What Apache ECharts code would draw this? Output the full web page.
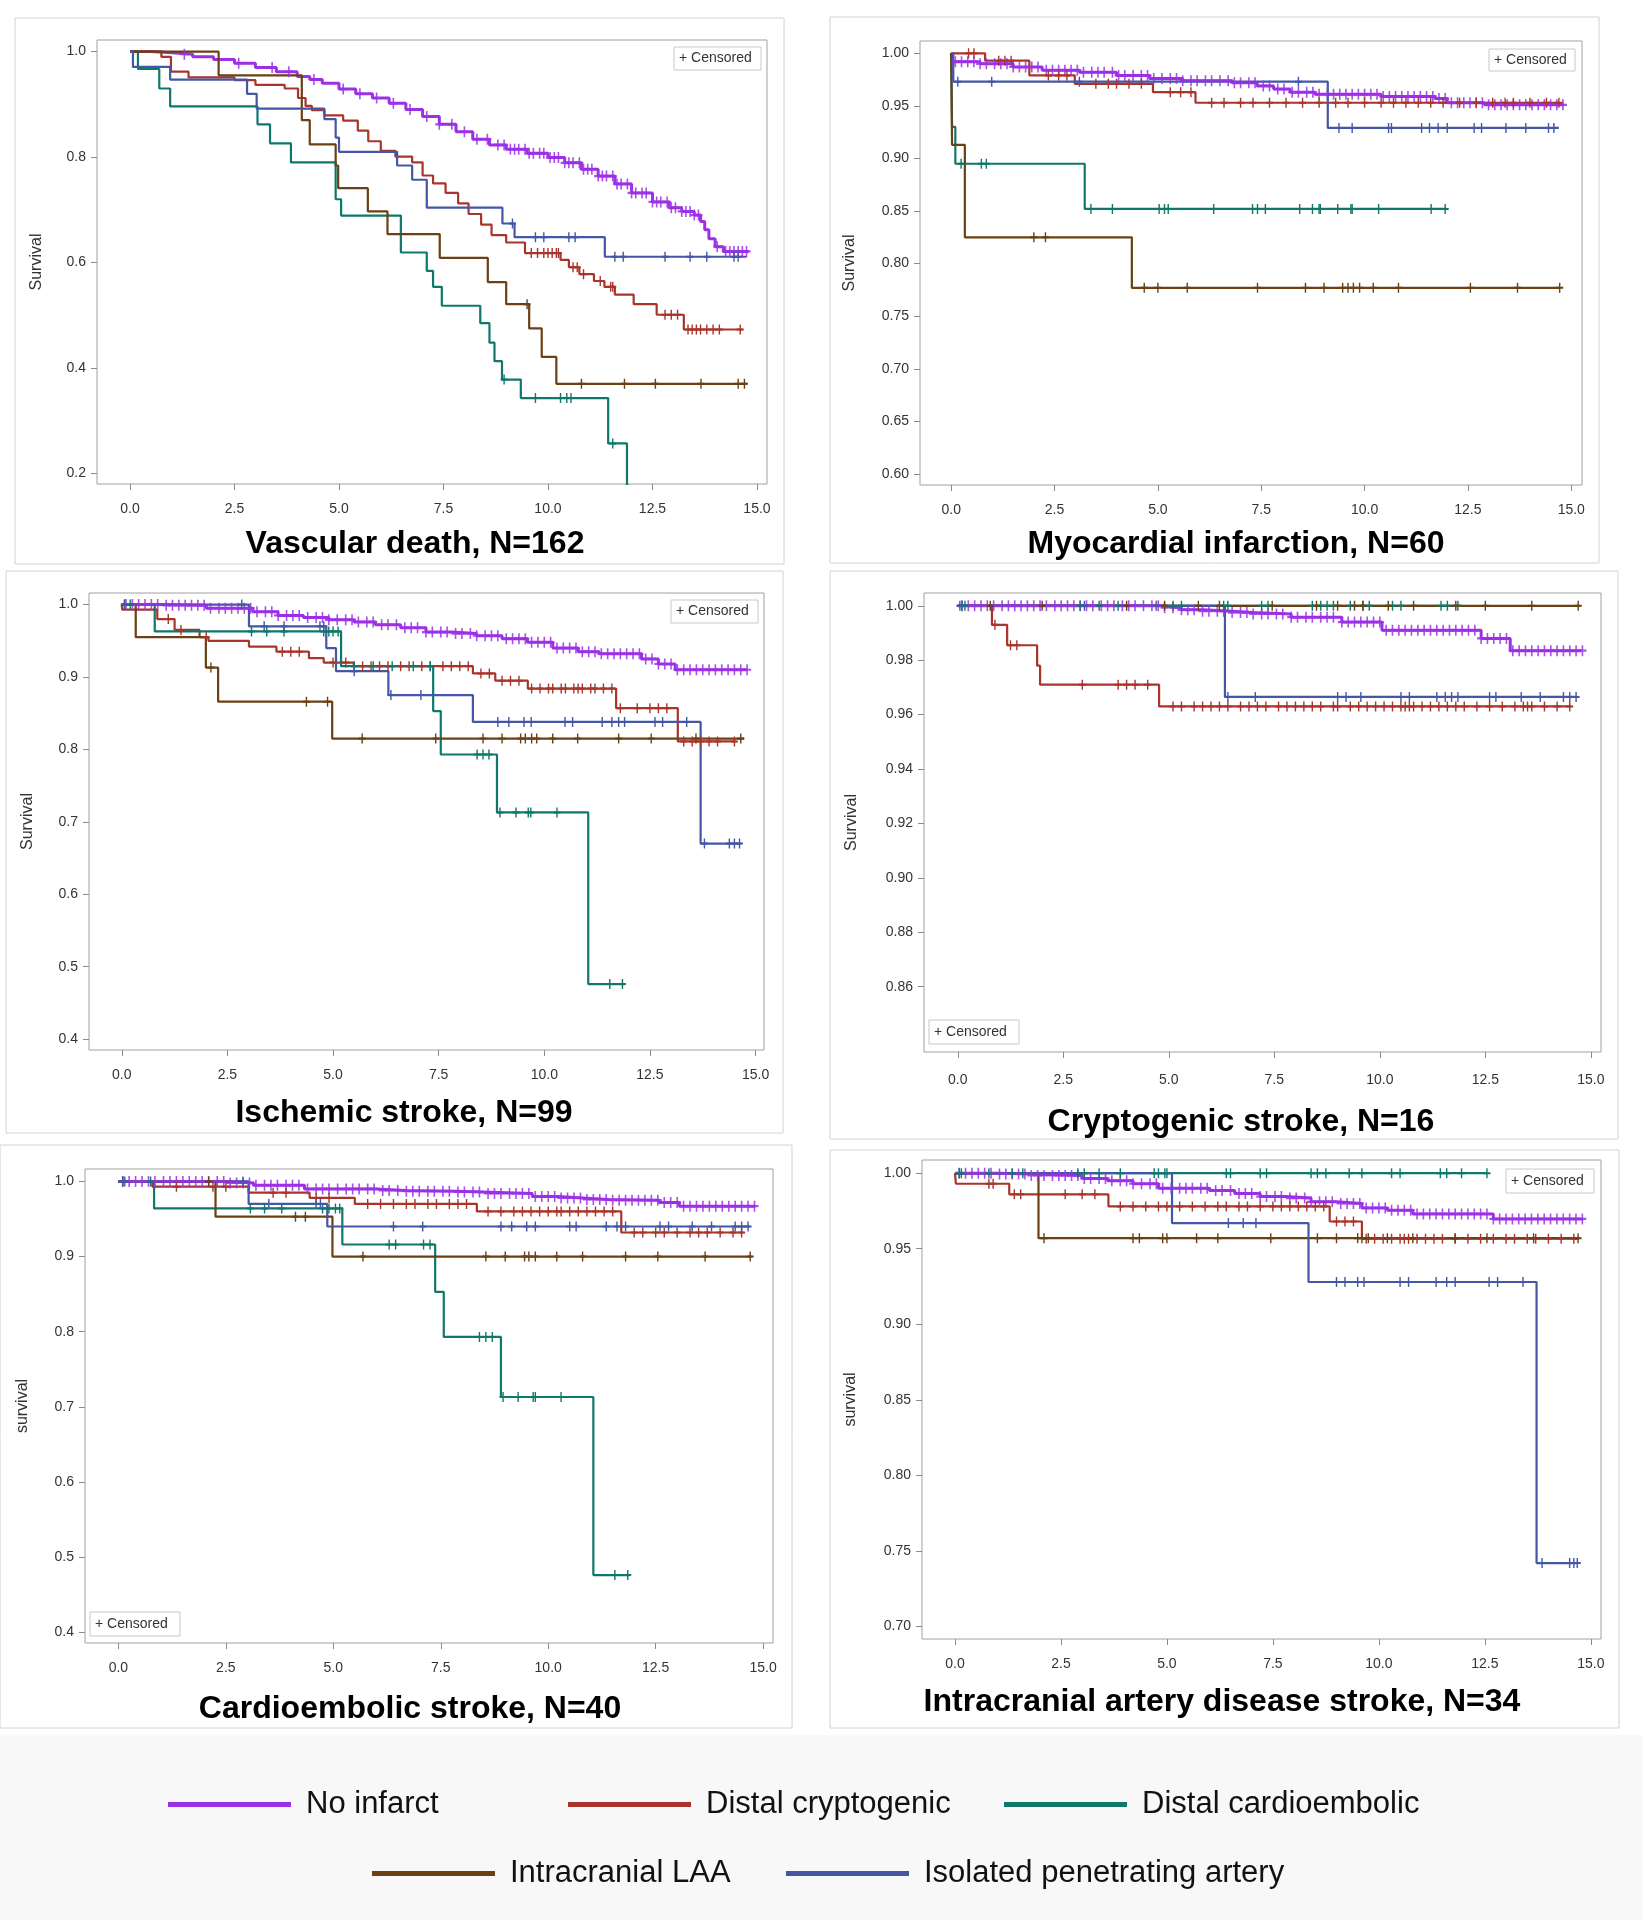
<!DOCTYPE html>
<html><head><meta charset="utf-8">
<script src="https://cdn.jsdelivr.net/npm/echarts@6/dist/echarts.min.js"></script>
<style>html,body{margin:0;padding:0;background:#fff}#c{width:1643px;height:1920px}</style>
</head><body><div id="c"></div>
<script>
// ---------- categories / labels ----------
const groupNames = ['No infarct','Distal cryptogenic','Distal cardioembolic','Intracranial LAA','Isolated penetrating artery'];
const groupColors = ['#9b30e6','#a9342b','#0f786b','#6a4014','#4456a6'];
const panelTitles = ['Vascular death, N=162','Myocardial infarction, N=60','Ischemic stroke, N=99','Cryptogenic stroke, N=16','Cardioembolic stroke, N=40','Intracranial artery disease stroke, N=34'];
const yAxisNames = ['Survival','Survival','Survival','Survival','survival','survival'];
const xTicks = [0,2.5,5,7.5,10,12.5,15];
const yTicksVD = [0.2,0.4,0.6,0.8,1.0];
const yTicksMI = [0.60,0.65,0.70,0.75,0.80,0.85,0.90,0.95,1.00];
const yTicksIS = [0.4,0.5,0.6,0.7,0.8,0.9,1.0];
const yTicksCS = [0.86,0.88,0.90,0.92,0.94,0.96,0.98,1.00];
const yTicksCE = [0.4,0.5,0.6,0.7,0.8,0.9,1.0];
const yTicksICAD = [0.70,0.75,0.80,0.85,0.90,0.95,1.00];

// ---------- Vascular death: steps [time, survival] and censor times ----------
const vdNoInfarct = [[0,1],[0.5,0.998],[1.0,0.995],[1.5,0.99],[2.0,0.985],[2.5,0.978],[3.0,0.97],[3.5,0.962],[4.0,0.953],[4.3,0.947],[4.6,0.94],[5.0,0.929],[5.4,0.92],[5.8,0.912],[6.2,0.902],[6.6,0.89],[7.0,0.877],[7.4,0.862],[7.8,0.848],[8.2,0.834],[8.6,0.823],[9.0,0.815],[9.5,0.807],[10.0,0.799],[10.4,0.789],[10.8,0.777],[11.2,0.764],[11.6,0.749],[12.0,0.732],[12.5,0.715],[12.9,0.704],[13.2,0.697],[13.5,0.69],[13.65,0.678],[13.75,0.662],[13.85,0.645],[14.0,0.63],[14.2,0.621],[14.8,0.621]];
const vdNoInfarctCens = [1.3,2.6,3.4,3.8,4.4,5.1,5.5,5.9,6.3,6.7,7.1,7.4,7.7,8.0,8.3,8.55,8.8,8.95,9.1,9.2,9.3,9.45,9.55,9.65,9.8,9.9,10.05,10.15,10.25,10.4,10.5,10.6,10.75,10.85,10.95,11.05,11.2,11.3,11.4,11.55,11.65,11.75,11.9,12.0,12.1,12.25,12.35,12.5,12.6,12.7,12.85,12.95,13.05,13.2,13.3,13.4,13.5,13.6,14.05,14.25,14.35,14.45,14.55,14.65,14.75];
const vdCrypto = [[0,1],[0.75,0.99],[0.98,0.962],[1.4,0.951],[2.5,0.946],[3.0,0.937],[3.7,0.93],[4.02,0.912],[4.2,0.897],[4.35,0.889],[4.65,0.879],[5.1,0.869],[5.45,0.85],[5.7,0.83],[6.0,0.812],[6.35,0.801],[6.75,0.79],[7.0,0.765],[7.25,0.75],[7.55,0.732],[7.85,0.712],[8.1,0.692],[8.4,0.672],[8.65,0.652],[9.0,0.638],[9.45,0.618],[10.3,0.605],[10.5,0.591],[10.75,0.578],[11.1,0.565],[11.35,0.554],[11.6,0.539],[12.05,0.521],[12.6,0.501],[13.25,0.473],[14.65,0.473]];
const vdCryptoCens = [9.6,9.75,9.9,10.0,10.1,10.2,10.25,10.6,10.7,10.85,11.25,11.5,11.55,12.8,12.95,13.1,13.35,13.45,13.55,13.65,13.8,13.95,14.1,14.6];
const vdCardio = [[0,1],[0.19,0.967],[0.7,0.93],[0.96,0.896],[3.05,0.862],[3.35,0.826],[3.85,0.79],[4.92,0.72],[5.05,0.689],[6.48,0.619],[7.1,0.584],[7.25,0.554],[7.46,0.518],[8.38,0.485],[8.6,0.448],[8.72,0.413],[8.9,0.378],[9.35,0.343],[11.44,0.257],[11.89,0.15]];
const vdCardioCens = [8.95,9.7,10.3,10.45,10.55,11.55];
const vdLAA = [[0,1],[2.12,0.955],[4.11,0.87],[4.3,0.824],[4.92,0.784],[4.98,0.741],[5.69,0.697],[6.16,0.654],[7.41,0.609],[8.56,0.563],[9.0,0.521],[9.55,0.475],[9.85,0.421],[10.2,0.37],[14.75,0.37]];
const vdLAACens = [9.5,10.8,11.83,12.57,13.66,14.55,14.7];
const vdPen = [[0,1],[0.07,0.971],[0.96,0.947],[2.8,0.92],[3.03,0.892],[4.65,0.872],[4.92,0.837],[5.0,0.81],[6.39,0.784],[6.75,0.757],[7.1,0.704],[8.91,0.674],[9.2,0.648],[11.36,0.611],[14.75,0.611]];
const vdPenCens = [9.15,9.7,9.9,10.5,10.65,11.6,11.8,12.8,13.4,13.8,14.45,14.55];

// ---------- shared censor times of the No infarct group (panels 2-6) ----------
const noInfarctCens = [0.1,0.25,0.4,0.55,0.7,0.85,1.05,1.2,1.35,1.5,1.65,1.8,1.95,2.1,2.3,2.45,2.6,2.75,2.9,3.05,3.2,3.4,3.55,3.7,3.9,4.05,4.2,4.4,4.6,4.75,4.9,5.1,5.3,5.45,5.6,5.8,5.95,6.15,6.3,6.5,6.7,6.85,7.0,7.2,7.35,7.55,7.7,7.9,8.05,8.25,8.4,8.6,8.75,8.9,9.1,9.25,9.4,9.55,9.7,9.85,10.0,10.15,10.3,10.45,10.6,10.75,10.9,11.05,11.2,11.35,11.5,11.65,11.8,11.95,12.1,12.25,12.4,12.55,12.7,12.85,13.0,13.15,13.3,13.45,13.6,13.75,13.9,14.05,14.2,14.35,14.5,14.65,14.8];

// ---------- Myocardial infarction ----------
const miNoInfarct = [[0,1],[0.02,0.992],[0.7,0.99],[1.5,0.987],[2.2,0.984],[3.1,0.982],[4.0,0.979],[4.8,0.976],[5.6,0.974],[6.8,0.972],[7.4,0.969],[7.8,0.966],[8.2,0.963],[8.8,0.961],[10.4,0.959],[11.7,0.957],[12.0,0.953],[12.9,0.951],[14.82,0.951]];
const miCrypto = [[0,1],[0.82,0.993],[1.89,0.979],[2.99,0.971],[4.88,0.963],[5.91,0.953],[14.7,0.953]];
const miCryptoCens = [0.42,0.55,1.15,1.3,1.45,2.35,2.6,2.8,3.5,3.8,4.0,4.3,4.6,5.3,5.55,5.8,6.3,6.6,7.0,7.3,7.7,8.1,8.5,8.9,9.3,9.6,10.0,10.4,10.7,11.0,11.3,11.6,11.9,12.3,12.7,13.1,13.4,13.6,14.0,14.4,14.7];
const miCardio = [[0,1],[0.02,0.93],[0.1,0.895],[3.23,0.852],[11.99,0.852]];
const miCardioCens = [0.24,0.73,0.85,3.38,3.9,5.03,5.16,5.25,6.35,7.29,7.41,7.6,8.43,8.74,8.9,8.93,9.35,9.67,9.7,10.34,11.61,11.95];
const miLAA = [[0,1],[0.02,0.913],[0.33,0.825],[4.37,0.777],[14.73,0.777]];
const miLAACens = [2.0,2.28,4.67,5.0,5.71,7.41,8.57,9.02,9.47,9.6,9.73,9.88,10.21,10.82,12.56,13.7,14.72];
const miPen = [[0,1],[0.05,0.973],[9.11,0.929],[14.7,0.929]];
const miPenCens = [0.16,0.98,3.1,8.4,9.38,9.7,10.58,10.65,11.38,11.57,11.78,12.0,12.65,12.83,13.42,13.9,14.45,14.58];

// ---------- Ischemic stroke ----------
const isNoInfarct = [[0,1],[1.0,0.999],[2.0,0.995],[3.1,0.99],[3.7,0.985],[4.3,0.982],[4.9,0.979],[5.5,0.976],[6.0,0.972],[6.6,0.968],[7.2,0.962],[7.8,0.96],[8.4,0.957],[9.0,0.953],[9.6,0.948],[10.2,0.94],[10.8,0.935],[11.3,0.932],[12.3,0.925],[12.7,0.918],[13.1,0.91],[14.8,0.91]];
const isCrypto = [[0,1],[0.01,0.993],[0.84,0.98],[1.25,0.965],[1.84,0.955],[2.05,0.95],[3.01,0.942],[3.66,0.935],[4.43,0.926],[4.78,0.92],[5.49,0.915],[8.31,0.905],[8.84,0.895],[9.61,0.884],[11.7,0.857],[13.16,0.811],[14.53,0.811]];
const isCryptoCens = [1.1,1.4,2.0,3.8,4.0,4.2,5.0,5.3,5.7,5.9,6.1,6.3,6.6,6.8,7.1,7.3,7.6,7.8,8.0,8.2,8.5,8.7,9.0,9.2,9.4,9.7,9.9,10.1,10.2,10.4,10.5,10.7,10.8,10.9,11.1,11.2,11.4,11.6,11.8,12.2,12.5,12.7,12.9,13.3,13.5,13.7,13.9,14.1,14.5];
const isCardio = [[0,1],[0.78,0.963],[5.19,0.915],[7.37,0.853],[7.55,0.793],[8.88,0.713],[11.04,0.476],[11.9,0.476]];
const isCardioCens = [0.06,0.2,3.07,3.43,3.84,4.78,4.9,5.0,5.12,5.5,5.95,6.4,6.9,7.3,8.41,8.55,8.69,8.95,9.33,9.62,9.68,10.3,11.55,11.85];
const isLAA = [[0,1],[0.33,0.955],[1.99,0.913],[2.28,0.866],[4.98,0.815],[14.73,0.815]];
const isLAACens = [2.11,4.37,4.87,5.69,7.43,8.55,9.0,9.44,9.55,9.7,9.82,10.2,10.79,11.76,12.53,13.59,14.65];
const isPen = [[0,1],[3.01,0.97],[4.84,0.94],[5.07,0.908],[6.31,0.875],[8.31,0.838],[13.7,0.67],[14.65,0.67]];
const isPenCens = [0.07,2.84,3.37,3.84,4.69,4.78,5.5,6.37,7.08,8.9,9.16,9.52,9.69,10.49,10.67,11.37,11.6,11.76,11.9,12.62,12.8,13.37,13.79,14.38,14.5,14.62];

// ---------- Cryptogenic stroke ----------
const csNoInfarct = [[0,1],[4.8,0.9993],[5.3,0.9985],[5.8,0.998],[6.5,0.9975],[7.0,0.997],[7.9,0.9958],[9.1,0.994],[10.05,0.991],[12.4,0.988],[13.09,0.9835],[14.78,0.9835]];
const csCrypto = [[0,1],[0.81,0.993],[1.17,0.9855],[1.88,0.978],[1.95,0.971],[4.77,0.963],[14.53,0.963]];
const csCryptoCens = [0.88,1.25,1.4,2.95,3.8,4.0,4.2,4.5,5.1,5.3,5.6,5.8,6.0,6.2,6.4,6.7,6.9,7.1,7.3,7.6,7.8,8.0,8.2,8.4,8.6,8.9,9.0,9.3,9.5,9.7,9.9,10.1,10.3,10.5,10.6,10.7,10.8,11.0,11.2,11.4,11.6,11.8,12.0,12.3,12.6,12.9,13.2,13.4,13.5,13.6,13.9,14.2,14.5];
const csCardio = [[0,1],[11.95,1]];
const csCardioCens = [0.1,0.17,2.9,3.35,3.8,5.1,5.3,6.3,6.4,7.2,7.35,8.4,8.6,8.75,8.9,9.3,9.6,9.75,10.3,10.5,11.45,11.6,11.85];
const csLAA = [[0,1],[14.73,1]];
const csLAACens = [0.77,2.0,4.0,4.9,5.7,6.2,7.45,8.5,9.0,9.4,9.6,10.2,10.8,11.8,12.5,13.6,14.7];
const csPen = [[0,1],[6.33,0.9665],[14.68,0.9665]];
const csPenCens = [0.05,3.0,4.7,6.4,7.05,9.0,9.2,9.55,10.5,10.7,11.35,11.55,11.7,11.85,12.6,12.75,13.35,13.8,14.35,14.5,14.65];

// ---------- Cardioembolic stroke ----------
const ceNoInfarct = [[0,1],[2.5,0.998],[3.15,0.995],[4.33,0.99],[6.0,0.988],[6.69,0.987],[7.87,0.986],[8.46,0.984],[9.63,0.98],[10.22,0.978],[10.8,0.976],[11.4,0.975],[12.58,0.972],[13.05,0.967],[14.82,0.967]];
const ceCrypto = [[0,1],[0.79,0.993],[3.03,0.985],[4.45,0.978],[5.5,0.97],[8.34,0.96],[11.7,0.932],[14.53,0.932]];
const ceCryptoCens = [1.35,2.2,2.5,3.6,3.9,4.6,4.9,5.8,6.1,6.4,6.7,6.9,7.2,7.4,7.7,7.9,8.1,8.6,8.9,9.2,9.4,9.6,9.8,10.0,10.2,10.3,10.5,10.7,10.9,11.1,11.3,11.5,12.0,12.2,12.5,12.7,13.0,13.3,13.5,13.7,14.0,14.3,14.5];
const ceCardio = [[0,1],[0.83,0.964],[5.21,0.916],[7.37,0.853],[7.57,0.793],[8.9,0.713],[11.05,0.476],[11.9,0.476]];
const ceCardioCens = [0.1,0.75,3.07,3.4,3.8,4.75,4.9,5.05,5.15,6.3,6.45,7.1,7.25,8.4,8.55,8.7,8.95,9.3,9.65,9.7,10.3,11.55,11.85];
const ceLAA = [[0,1],[2.26,0.953],[4.98,0.9],[14.73,0.9]];
const ceLAACens = [2.1,4.12,4.35,5.69,8.55,9.0,9.45,9.55,9.7,10.2,10.8,11.8,12.55,13.65,14.7];
const cePen = [[0,1],[3.03,0.97],[4.86,0.94],[14.68,0.94]];
const cePenCens = [0.1,0.15,2.9,3.5,4.6,4.7,6.4,7.08,8.9,9.15,9.5,9.7,10.5,10.65,11.35,11.6,11.8,12.6,12.8,13.35,13.8,14.35,14.5,14.65];

// ---------- Intracranial artery disease stroke ----------
const icNoInfarct = [[0,1],[1.0,0.9995],[1.8,0.9985],[3.0,0.9965],[3.6,0.995],[4.2,0.993],[4.8,0.99],[6.0,0.9885],[6.6,0.9865],[7.2,0.9845],[7.8,0.9835],[8.4,0.981],[9.0,0.98],[9.6,0.977],[10.2,0.9755],[10.8,0.973],[12.7,0.9697],[14.82,0.9697]];
const icCrypto = [[0,1],[0.02,0.993],[1.28,0.986],[3.62,0.978],[8.84,0.968],[9.6,0.9566],[14.7,0.9566]];
const icCryptoCens = [0.8,0.9,1.4,1.55,2.6,3.0,3.3,3.9,4.2,4.5,4.8,5.0,5.3,5.6,5.9,6.2,6.4,6.7,6.9,7.2,7.5,7.7,7.9,8.1,8.3,8.5,8.7,9.0,9.2,9.4,9.7,9.9,10.1,10.3,10.5,10.6,10.7,10.9,11.1,11.3,11.5,11.8,12.1,12.4,12.7,13.0,13.2,13.5,13.7,14.0,14.3,14.6];
const icCardio = [[0,1],[12.55,1]];
const icCardioCens = [0.1,0.15,0.8,1.35,1.6,2.9,3.05,3.4,3.9,4.7,4.8,4.95,5.0,6.4,6.5,7.2,7.35,8.4,8.55,8.75,9.3,9.6,10.3,10.5,11.45,11.6,11.95,12.55];
const icLAA = [[0,1],[1.97,0.957],[14.73,0.957]];
const icLAACens = [2.1,4.2,4.35,4.9,5.0,5.7,6.2,7.45,8.55,9.0,9.5,9.6,9.75,10.2,10.8,11.8,12.55,13.65,14.7];
const icPen = [[0,1],[5.12,0.967],[8.34,0.928],[13.72,0.742],[14.68,0.742]];
const icPenCens = [6.45,6.8,7.1,9.0,9.2,9.5,9.65,10.5,10.7,11.35,11.6,11.8,12.6,12.8,13.4,13.85,14.5,14.6,14.68];

// ---------- assembly ----------
const FONT = "'Liberation Sans', Arial, sans-serif";
const panels = [
  {curves:[vdNoInfarct,vdCrypto,vdCardio,vdLAA,vdPen], cens:[vdNoInfarctCens,vdCryptoCens,vdCardioCens,vdLAACens,vdPenCens], yTicks:yTicksVD, dec:1,
   grid:{left:97,top:40,width:670,height:444}, x:[-0.79,15.24], y:[0.180,1.022], title:[415,546], cbox:[674,47,87,23], box:[15,18,769,546], gap:52, xm:18},
  {curves:[miNoInfarct,miCrypto,miCardio,miLAA,miPen], cens:[noInfarctCens,miCryptoCens,miCardioCens,miLAACens,miPenCens], yTicks:yTicksMI, dec:2,
   grid:{left:920,top:41,width:662,height:444}, x:[-0.755,15.26], y:[0.5895,1.0117], title:[1236,546], cbox:[1489,49,86,22], box:[830,17,769,546], gap:62, xm:18},
  {curves:[isNoInfarct,isCrypto,isCardio,isLAA,isPen], cens:[noInfarctCens,isCryptoCens,isCardioCens,isLAACens,isPenCens], yTicks:yTicksIS, dec:1,
   grid:{left:89,top:593,width:675,height:457}, x:[-0.776,15.2], y:[0.385,1.016], title:[404,1115], cbox:[671,600,87,23], box:[6,571,777,562], gap:53, xm:18},
  {curves:[csNoInfarct,csCrypto,csCardio,csLAA,csPen], cens:[noInfarctCens,csCryptoCens,csCardioCens,csLAACens,csPenCens], yTicks:yTicksCS, dec:2,
   grid:{left:924,top:593,width:677,height:459}, x:[-0.8,15.24], y:[0.836,1.0047], title:[1241,1124], cbox:[929,1020,90,24], box:[830,571,788,568], gap:64, xm:21},
  {curves:[ceNoInfarct,ceCrypto,ceCardio,ceLAA,cePen], cens:[noInfarctCens,ceCryptoCens,ceCardioCens,ceLAACens,cePenCens], yTicks:yTicksCE, dec:1,
   grid:{left:85,top:1169,width:688,height:474}, x:[-0.777,15.23], y:[0.3856,1.0165], title:[410,1711], cbox:[90,1612,90,24], box:[0,1145,792,583], gap:54, xm:18},
  {curves:[icNoInfarct,icCrypto,icCardio,icLAA,icPen], cens:[noInfarctCens,icCryptoCens,icCardioCens,icLAACens,icPenCens], yTicks:yTicksICAD, dec:2,
   grid:{left:922,top:1160,width:679,height:479}, x:[-0.778,15.24], y:[0.6918,1.0087], title:[1222,1704], cbox:[1506,1169,88,24], box:[830,1150,789,578], gap:63, xm:18}
];

function survAt(steps, t){ let s = steps[0][1]; for (const p of steps){ if (p[0] <= t + 1e-9) s = p[1]; else break; } return s; }
const plusPath = 'path://M4,0H6V4H10V6H6V10H4V6H0V4H4Z';

const option = {animation:false, backgroundColor:'#ffffff', grid:[], xAxis:[], yAxis:[], series:[], title:[], legend:[], graphic:[]};

option.graphic.push({type:'rect', shape:{x:0,y:1735,width:1643,height:185}, style:{fill:'#f8f8f8'}, silent:true, z:-10});

panels.forEach((p,i)=>{
  option.graphic.push({type:'rect', shape:{x:p.box[0],y:p.box[1],width:p.box[2],height:p.box[3]}, style:{fill:'none',stroke:'#d2d2d2',lineWidth:1}, silent:true});
  option.grid.push(Object.assign({show:true, borderColor:'#a0a0a0', borderWidth:1, backgroundColor:'#fff', containLabel:false}, p.grid));
  option.xAxis.push({type:'value', gridIndex:i, min:p.x[0], max:p.x[1],
    axisLine:{show:false, onZero:false}, splitLine:{show:false},
    axisTick:{show:true, customValues:xTicks, length:6, lineStyle:{color:'#8a8a8a'}},
    axisLabel:{customValues:xTicks, formatter:v=>v.toFixed(1), margin:p.xm, fontSize:14, color:'#333', fontFamily:FONT}});
  option.yAxis.push({type:'value', gridIndex:i, min:p.y[0], max:p.y[1],
    name:yAxisNames[i], nameLocation:'middle', nameGap:p.gap, nameTextStyle:{fontSize:16, color:'#333', fontFamily:FONT},
    axisLine:{show:false, onZero:false}, splitLine:{show:false},
    axisTick:{show:true, customValues:p.yTicks, length:6, lineStyle:{color:'#8a8a8a'}},
    axisLabel:{customValues:p.yTicks, formatter:v=>v.toFixed(p.dec), margin:11, fontSize:14, color:'#333', fontFamily:FONT}});
  option.title.push({text:panelTitles[i], left:p.title[0], top:p.title[1]-18, textAlign:'center', padding:0,
    textStyle:{fontSize:32, fontWeight:'bold', color:'#000', fontFamily:FONT}});
  p.curves.forEach((steps,g)=>{
    option.series.push({type:'line', name:groupNames[g], xAxisIndex:i, yAxisIndex:i, step:'end', showSymbol:false, symbol:'none',
      color:groupColors[g], lineStyle:{width:g===0?3:2.2, color:groupColors[g]}, data:steps, clip:true, silent:true, z:2});
    option.series.push({type:'scatter', name:groupNames[g], xAxisIndex:i, yAxisIndex:i, symbol:plusPath, symbolSize:g===0?[8,11]:[7,10],
      color:groupColors[g], itemStyle:{color:groupColors[g], opacity:g===0?0.85:1}, silent:true, z:3,
      data:p.cens[g].map(t=>[t, survAt(steps,t)])});
  });
  const b = p.cbox;
  option.graphic.push({type:'group', children:[
    {type:'rect', shape:{x:b[0],y:b[1],width:b[2],height:b[3]}, style:{fill:'#fff',stroke:'#c8c8c8',lineWidth:1}},
    {type:'text', x:b[0]+5, y:b[1]+b[3]/2, style:{text:'+ Censored', fill:'#333', font:'14px '+FONT, verticalAlign:'middle', align:'left'}}
  ], z:10});
});

const legendPos = [[168,1789],[568,1789],[1004,1789],[372,1858],[786,1858]];
groupNames.forEach((n,g)=>{
  option.legend.push({left:legendPos[g][0], top:legendPos[g][1], data:[n], icon:'rect', itemWidth:123, itemHeight:5, padding:0, itemGap:0,
    textStyle:{fontSize:31, color:'#111', fontFamily:FONT, padding:[0,0,0,10]}});
});

const chart = echarts.init(document.getElementById('c'), null, {renderer:'canvas'});
chart.setOption(option);
</script>
</body></html>
